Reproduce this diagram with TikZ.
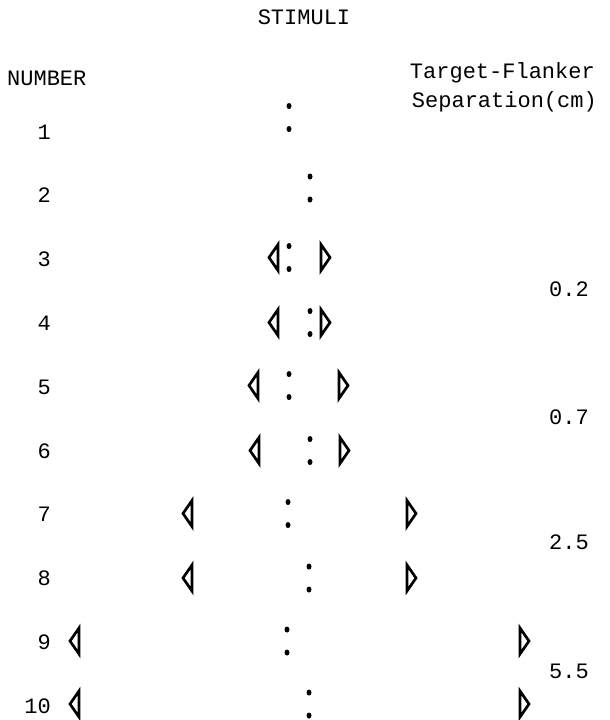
\documentclass[tikz,border=0pt]{standalone}
\usepackage{fontspec}
\setmainfont{Liberation Mono}
\begin{document}
\begin{tikzpicture}[x=1pt,y=-1pt,
  lbl/.style={inner sep=0pt, font=\fontsize{22}{24}\selectfont},
  flank/.style={line width=2.7pt, line join=miter, line cap=round},
  spot/.style={fill=black}]
\useasboundingbox (0,0) rectangle (610,720);

% headings
\node[lbl, anchor=base] (title) at (304,24) {STIMULI};
\node[lbl, anchor=base west] (number) at (7,85) {NUMBER};
\node[lbl, anchor=base east] (tf) at (595,78) {Target-Flanker};
\node[lbl, anchor=base east] (sep) at (597,107) {Separation(cm)};

% stimulus numbers
\foreach \k in {1,...,10}
  \node[lbl, anchor=base east] (n\k) at (51,{139+63.8*(\k-1)}) {\k};

% separations
\foreach \v/\yy in {0.2/296, 0.7/424, 2.5/549, 5.5/678}
  \node[lbl, anchor=base east] (s\v) at (589,\yy) {\v};

% target colons: row / centre y / x
\foreach \r/\yc/\xc in {1/117.5/289, 2/188/310, 3/257.5/289, 4/322.5/310,
                        5/385.5/289, 6/450.5/310, 7/513.5/288, 8/578/309,
                        9/641/287, 10/704/309} {
  \fill[spot] (\xc,\yc-11.5) ellipse (2.5pt and 3pt);
  \fill[spot] (\xc,\yc+11.5) ellipse (2.5pt and 3pt);
}

% flankers: centre y / left apex x / right apex x
\foreach \yc/\lx/\rx in {257.5/269/330, 322.5/269/330,
                         385.5/249/348, 450.5/250/349,
                         513.5/183/416, 578/183/416,
                         641/70/529, 704/70/529} {
  \draw[flank] (\lx,\yc) -- (\lx+9,\yc-13) -- (\lx+9,\yc+13) -- cycle;
  \draw[flank] (\rx,\yc) -- (\rx-9,\yc-13) -- (\rx-9,\yc+13) -- cycle;
}
\end{tikzpicture}
\end{document}
